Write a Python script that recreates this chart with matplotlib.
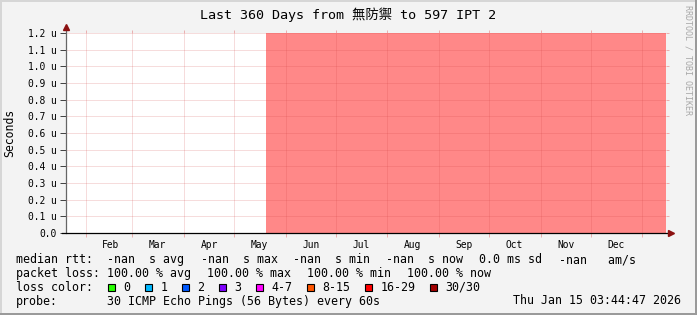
import matplotlib
matplotlib.use("Agg")
import matplotlib.pyplot as plt
import matplotlib.dates as mdates
from matplotlib.patches import Rectangle
from matplotlib.lines import Line2D
from datetime import datetime, timedelta

# ---------------- data ----------------
title = "Last 360 Days from 無防禦 to 597 IPT 2"
period_start = "2025-01-20 03:44:47"
period_end = "2026-01-15 03:44:47"
loss_span = ["2025-05-20 03:44:47", "2026-01-15 03:44:47"]  # 100 % loss, no rtt data
y_max = 1.2e-6
y_ticks = [0.0, 0.1e-6, 0.2e-6, 0.3e-6, 0.4e-6, 0.5e-6, 0.6e-6,
           0.7e-6, 0.8e-6, 0.9e-6, 1.0e-6, 1.1e-6, 1.2e-6]
y_tick_labels = ["0.0", "0.1 u", "0.2 u", "0.3 u", "0.4 u", "0.5 u", "0.6 u",
                 "0.7 u", "0.8 u", "0.9 u", "1.0 u", "1.1 u", "1.2 u"]
month_starts = ["2025-02-01", "2025-03-01", "2025-04-01", "2025-05-01",
                "2025-06-01", "2025-07-01", "2025-08-01", "2025-09-01",
                "2025-10-01", "2025-11-01", "2025-12-01", "2026-01-01"]
month_labels = ["Feb", "Mar", "Apr", "May", "Jun", "Jul", "Aug", "Sep",
                "Oct", "Nov", "Dec"]
rtt_items = ["-nan  s avg", "-nan  s max", "-nan  s min", "-nan  s now",
             "0.0 ms sd", "-nan   am/s"]
loss_items = ["100.00 % avg", "100.00 % max", "100.00 % min", "100.00 % now"]
loss_labels = ["0", "1", "2", "3", "4-7", "8-15", "16-29", "30/30"]
loss_colors = ["#26ff00", "#00b8ff", "#0059ff", "#7e00ff", "#ff00ff",
               "#ff5500", "#ff0000", "#a10000"]
probe_text = "30 ICMP Echo Pings (56 Bytes) every 60s"
timestamp = "Thu Jan 15 03:44:47 2026"

# ---------------- layout ----------------
W, H = 697, 315
BG = "#f3f3f3"
MONO = ["DejaVu Sans Mono", "Noto Sans CJK SC"]
plt.rcParams["font.family"] = MONO

def fx(x):
    return x / W

def fy(y):
    return 1 - y / H

fp = lambda s: datetime.strptime(s, "%Y-%m-%d %H:%M:%S")
fd = lambda s: datetime.strptime(s, "%Y-%m-%d")

fig = plt.figure(figsize=(W / 100, H / 100), dpi=100, facecolor=BG)
ax = fig.add_axes([fx(66), fy(233), 600 / W, 200 / H])
ax.set_facecolor("white")

t0, t1 = fp(period_start), fp(period_end)
ax.set_xlim(t0, t1)
ax.set_ylim(0, y_max)

# red area
ax.axvspan(fp(loss_span[0]), fp(loss_span[1]), ymin=0, ymax=1,
           facecolor="#ff8888", edgecolor="none", zorder=1)

# grid
grid_kw = dict(color="#d04040", alpha=0.36, linewidth=0.72, linestyle=(0, (1, 1)))
ms = [fd(m) for m in month_starts]
ax.set_xticks(ms)
ax.set_xticklabels([])
ax.set_xticks([m + timedelta(days=15) for m in ms[:len(month_labels)]], minor=True)
ax.set_xticklabels(month_labels, minor=True)
ax.set_yticks(y_ticks)
ax.set_yticklabels(y_tick_labels)
ax.grid(True, which="major", **grid_kw)
ax.set_axisbelow(False)

ax.tick_params(axis="x", which="major", length=3, width=0.72, color="#eab0b0",
               direction="out")
ax.tick_params(axis="x", which="minor", length=0, pad=5, labelsize=6.9)
ax.tick_params(axis="y", which="major", length=4, width=0.72, color="#444444",
               direction="out", pad=3, labelsize=6.9)

for s in ax.spines.values():
    s.set_visible(False)

# right / top tick marks
ax2 = ax.secondary_yaxis("right")
ax2.set_yticks(y_ticks)
ax2.set_yticklabels([])
ax2.tick_params(length=2, width=0.72, color="#eab0b0", direction="out")
for s in ax2.spines.values():
    s.set_visible(False)
ax3 = ax.secondary_xaxis("top")
ax3.set_xticks(ms)
ax3.set_xticklabels([])
ax3.tick_params(length=2.5, width=0.72, color="#eab0b0", direction="out")
ax3.tick_params(which="minor", length=0)
for s in ax3.spines.values():
    s.set_visible(False)

# axes lines with arrows
ax.plot([0, 0], [0, 1.02], transform=ax.transAxes, color="#666666",
        lw=0.9, clip_on=False, zorder=5)
ax.plot([-0.006, 1.006], [0, 0], transform=ax.transAxes, color="black",
        lw=0.9, clip_on=False, zorder=5)
ax.plot([0], [1.03], marker="^", markersize=4, color="#8b1010",
        transform=ax.transAxes, clip_on=False, zorder=6)
ax.plot([1.009], [0], marker=">", markersize=4, color="#8b1010",
        transform=ax.transAxes, clip_on=False, zorder=6)

# title / labels
fig.text(fx(348), fy(14.5), title, ha="center", va="center", fontsize=9.6,
         family=MONO)
fig.text(fx(10), fy(132.5), "Seconds", rotation=90, ha="center", va="center",
         fontsize=8.3)
fig.text(fx(688), fy(60), "RRDTOOL / TOBI OETIKER", rotation=270, ha="center",
         va="center", fontsize=6, color="#a8a8a8")

# legend
LS = 8.4
rows = [263.3, 277.0, 290.8, 304.5]
fig.text(fx(16), fy(rows[0]), "median rtt:", fontsize=LS, va="baseline")
for txt, x in zip(rtt_items, [107.3, 201, 293.3, 386, 479.3, 559]):
    fig.text(fx(x), fy(rows[0]), txt, fontsize=LS, va="baseline")
fig.text(fx(16), fy(rows[1]), "packet loss:", fontsize=LS, va="baseline")
for txt, x in zip(loss_items, [107.3, 207.3, 306.7, 407.3]):
    fig.text(fx(x), fy(rows[1]), txt, fontsize=LS, va="baseline")
fig.text(fx(16), fy(rows[2]), "loss color:", fontsize=LS, va="baseline")
box_x = [108.3, 145.3, 182.3, 219.3, 256.3, 307, 365.3, 430.3]
for lab, col, bx in zip(loss_labels, loss_colors, box_x):
    fig.add_artist(Rectangle((fx(bx), fy(290.5)), 7 / W, 7 / H,
                             transform=fig.transFigure, facecolor=col,
                             edgecolor="black", linewidth=0.8))
    fig.text(fx(bx + 15), fy(rows[2]), lab, fontsize=LS, va="baseline")
fig.text(fx(16), fy(rows[3]), "probe:", fontsize=LS, va="baseline")
fig.text(fx(107.3), fy(rows[3]), probe_text, fontsize=LS, va="baseline")
fig.text(fx(681), fy(rows[3]), timestamp, fontsize=LS, va="baseline", ha="right")

# image border (3d look)
fig.add_artist(Line2D([0, 1], [fy(0.75), fy(0.75)], transform=fig.transFigure,
                      color="#d6d6d6", lw=1.44))
fig.add_artist(Line2D([fx(0.75), fx(0.75)], [0, 1], transform=fig.transFigure,
                      color="#d6d6d6", lw=1.44))
fig.add_artist(Line2D([0, 1], [fy(314.25), fy(314.25)], transform=fig.transFigure,
                      color="#9a9a9a", lw=1.44))
fig.add_artist(Line2D([fx(696.25), fx(696.25)], [0, 1], transform=fig.transFigure,
                      color="#9a9a9a", lw=1.44))

fig.savefig("out.png", dpi=100, facecolor=BG)
